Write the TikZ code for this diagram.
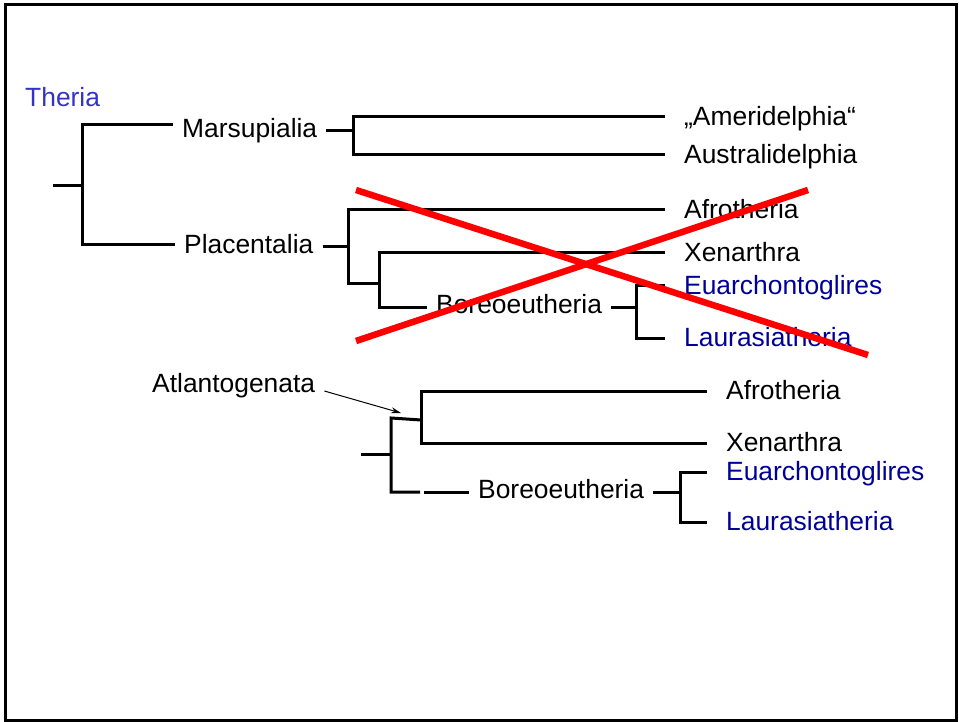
\documentclass[tikz,border=0pt]{standalone}
\usepackage{fontspec}
\setmainfont{Liberation Sans}
\usepackage{tikz}
\usetikzlibrary{calc,arrows.meta}

\definecolor{theriablue}{RGB}{51,51,204}
\definecolor{cladeblue}{RGB}{0,0,153}

\tikzset{
    branch/.style={line width=3pt},
    lbl/.style={anchor=west,inner xsep=9pt,inner ysep=0pt,text height=19pt,text depth=5.5pt,font=\fontsize{26.4}{30}\selectfont},
    leaf/.style={lbl,inner xsep=19pt,text height=21pt,text depth=3.5pt},
    cross/.style={red,line width=6.5pt},
    pointer/.style={line width=1pt,-{Stealth[length=10pt,width=6pt]}}
}

\begin{document}
\begin{tikzpicture}[x=1pt,y=-1pt]
    \useasboundingbox (0,0) rectangle (959,722);
    \draw[line width=3pt] (5,4.5) rectangle (956,720);

    \node[lbl,text=theriablue,inner xsep=0pt] (theria) at (25,100) {Theria};

    \node[lbl] (mars) at (173,131) {Marsupialia};
    \node[lbl] (plac) at (175,247) {Placentalia};
    \node[leaf] (ameri) at (665,117) {„Ameridelphia“};
    \node[leaf] (austr) at (665,155) {Australidelphia};
    \node[leaf] (afro) at (665,210) {Afrotheria};
    \node[leaf] (xen) at (665,253) {Xenarthra};
    \node[lbl] (bore) at (427,307) {Boreoeutheria};
    \node[leaf,text=cladeblue] (euar) at (665,286) {Euarchontoglires};
    \node[leaf,text=cladeblue] (laur) at (665,338) {Laurasiatheria};

    \coordinate (root1) at (53,186);
    \coordinate (therJ) at (82,186);
    \coordinate (marsJ) at (353,131);
    \coordinate (placJ) at (348,247);
    \coordinate (exafJ) at (379,284);
    \coordinate (boreJ) at (636,307);

    \draw[branch] (root1) -- (therJ);
    \draw[branch] ([yshift=6pt]mars.west) -| (therJ) |- ([yshift=2pt]plac.west);
    \draw[branch] (mars.east) -- (marsJ);
    \draw[branch] (ameri.west) -| (marsJ) |- (austr.west);
    \draw[branch] (plac.east) -- (placJ);
    \draw[branch] (afro.west) -| (placJ) |- (exafJ);
    \draw[branch] (xen.west) -| (exafJ) |- (bore.west);
    \draw[branch] (bore.east) -- (boreJ);
    \draw[branch] (euar.west) -| (boreJ) |- (laur.west);

    \draw[cross] (356,190) -- (868,355);
    \draw[cross] (356,341) -- (808,190);

    \node[lbl] (atl) at (143,386) {Atlantogenata};
    \node[leaf] (afro2) at (707,391) {Afrotheria};
    \node[leaf] (xen2) at (707,443) {Xenarthra};
    \node[lbl] (bore2) at (469,492) {Boreoeutheria};
    \node[leaf,text=cladeblue] (euar2) at (707,472) {Euarchontoglires};
    \node[leaf,text=cladeblue] (laur2) at (707,522) {Laurasiatheria};

    \coordinate (root2) at (361,454);
    \coordinate (eutJ) at (391,454);
    \coordinate (atlS) at (391,418);
    \coordinate (atlJ) at (421,420);
    \coordinate (gapL) at (420,492);
    \coordinate (gapR) at (424,492);
    \coordinate (atlT) at (401,413);
    \coordinate (bore2J) at (680,492);

    \draw[branch] (root2) -- (eutJ);
    \draw[branch] (atlJ) -- (atlS) |- (gapL);
    \draw[branch] (gapR) -- (bore2.west);
    \draw[branch] (afro2.west) -| (atlJ) |- (xen2.west);
    \draw[branch] (bore2.east) -- (bore2J);
    \draw[branch] (euar2.west) -| (bore2J) |- (laur2.west);
    \draw[pointer] ([yshift=-5pt]atl.east) -- (atlT);
\end{tikzpicture}
\end{document}
